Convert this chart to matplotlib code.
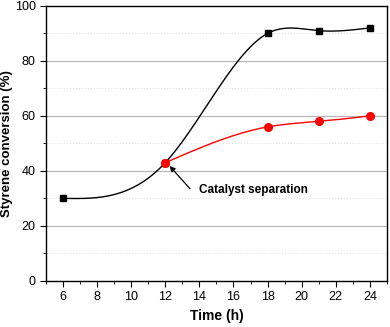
import numpy as np
import matplotlib
matplotlib.use("Agg")
import matplotlib.pyplot as plt
from matplotlib.ticker import MultipleLocator

plt.rcParams['font.family'] = ['Liberation Sans', 'DejaVu Sans']

time_full = [6, 12, 18, 21, 24]
conv_full = [30, 43, 90, 91, 92]
time_sep = [12, 18, 21, 24]
conv_sep = [43, 56, 58, 60]


def natural_spline(x, y, n=200):
    x = np.asarray(x, float)
    y = np.asarray(y, float)
    m = len(x)
    h = np.diff(x)
    A = np.zeros((m, m))
    b = np.zeros(m)
    A[0, 0] = 1
    A[-1, -1] = 1
    for i in range(1, m - 1):
        A[i, i - 1] = h[i - 1]
        A[i, i] = 2 * (h[i - 1] + h[i])
        A[i, i + 1] = h[i]
        b[i] = 6 * ((y[i + 1] - y[i]) / h[i] - (y[i] - y[i - 1]) / h[i - 1])
    M = np.linalg.solve(A, b)
    xs = np.linspace(x[0], x[-1], n)
    ys = np.empty_like(xs)
    for k, xv in enumerate(xs):
        i = min(np.searchsorted(x, xv, side='right') - 1, m - 2)
        t1 = x[i + 1] - xv
        t0 = xv - x[i]
        ys[k] = (M[i] * t1 ** 3 + M[i + 1] * t0 ** 3) / (6 * h[i]) \
            + (y[i] / h[i] - M[i] * h[i] / 6) * t1 \
            + (y[i + 1] / h[i] - M[i + 1] * h[i] / 6) * t0
    return xs, ys


fig = plt.figure(figsize=(3.9, 3.27), dpi=100)
ax = fig.add_axes([0.118, 0.141, 0.874, 0.841])

ax.yaxis.set_minor_locator(MultipleLocator(10))
ax.xaxis.set_minor_locator(MultipleLocator(1))
ax.grid(True, which='major', axis='y', color='#b4b4b4', lw=0.8)
ax.grid(True, which='minor', axis='y', color='#e2e2e2', lw=0.8, ls=':')
ax.set_axisbelow(True)

xs, ys = natural_spline(time_full, conv_full)
ax.plot(xs, ys, color='black', lw=1.0, zorder=3)
ax.plot(time_full, conv_full, 's', color='black', ms=4, zorder=4)

xs2, ys2 = natural_spline(time_sep, conv_sep)
ax.plot(xs2, ys2, color='red', lw=1.0, zorder=5)
ax.plot(time_sep, conv_sep, 'o', color='red', ms=5.5, zorder=6)

ax.annotate('', xy=(12.25, 41.8), xytext=(13.45, 33.5),
            arrowprops=dict(arrowstyle='-|>', color='black', lw=0.9,
                            mutation_scale=8, shrinkA=0, shrinkB=0))
ax.text(13.95, 32.9, 'Catalyst separation', fontsize=8.5, fontweight='bold',
        va='center', ha='left')

ax.set_xlim(5, 25)
ax.set_ylim(0, 100)
ax.set_xticks([6, 8, 10, 12, 14, 16, 18, 20, 22, 24])
ax.set_yticks([0, 20, 40, 60, 80, 100])
ax.tick_params(which='both', direction='out', top=False, right=False, labelsize=9)
ax.tick_params(which='major', length=4)
ax.tick_params(which='minor', length=2)
ax.set_xlabel('Time (h)', fontsize=10, fontweight='bold')
ax.set_ylabel('Styrene conversion (%)', fontsize=9.5, fontweight='bold', labelpad=1)
for s in ax.spines.values():
    s.set_linewidth(1.0)

fig.savefig('out.png', dpi=100)
